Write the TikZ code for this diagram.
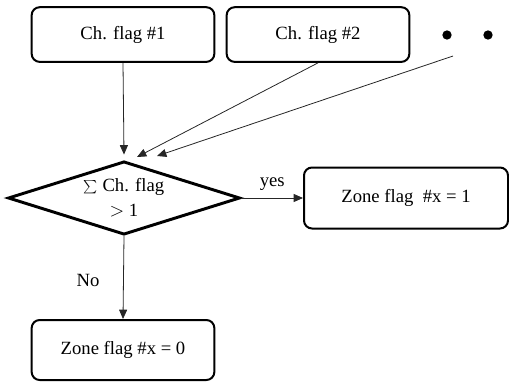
\documentclass[tikz,border=0pt]{standalone}
\usepackage{tikz}
\usepackage{xcolor}
\usepackage{fontspec}
\setmainfont{Liberation Serif}
\usetikzlibrary{shapes.geometric,arrows.meta}

\tikzset{
	flagbox/.style={draw,line width=1.5pt,rounded corners=6pt,minimum width=137pt,minimum height=41pt,font=\fontsize{14}{16}\selectfont},
	decision/.style={draw,diamond,shape aspect=3.16,line width=2.2pt,inner sep=0pt,minimum width=174pt,minimum height=55pt,align=center,font=\fontsize{14}{16}\selectfont},
	arr/.style={-{Triangle[length=7pt,width=6pt]},line width=0.6pt,draw=black!85},
	bullet/.style={circle,fill=black,inner sep=0pt,minimum size=7pt},
	lbl/.style={font=\fontsize{14}{16}\selectfont}
}

\begin{document}
		\begin{tikzpicture}
			\useasboundingbox (0,0) rectangle (381.75pt,-286.5pt);
			\node[flagbox] (flag1) at (92.25pt,-25.9pt) {Ch. flag \#1};
			\node[flagbox] (flag2) at (238.5pt,-25.9pt) {Ch. flag \#2};
			\node[bullet] (dotA) at (335.25pt,-26.25pt) {};
			\node[bullet] (dotB) at (366pt,-26.25pt) {};
			\node[decision] (sum) at (93pt,-148.5pt) {$\sum$ Ch. flag\\[3pt]$>$ 1};
			\node[flagbox,minimum width=153pt,minimum height=45.75pt] (zone1) at (304.5pt,-148.5pt) {Zone flag~~\#x = 1};
			\node[flagbox,minimum height=45pt] (zone0) at (92.25pt,-262.5pt) {Zone flag \#x = 0};

			\coordinate (more) at (339.75pt,-42pt);
			\coordinate (in2) at (102.75pt,-117.75pt);
			\coordinate (in3) at (117.75pt,-117pt);

			\draw[arr] (flag1.south) -- ([yshift=4pt]sum.north);
			\draw[arr] (flag2.south) -- (in2);
			\draw[arr] (more) -- (in3);
			\draw[arr] (sum.east) -- node[lbl,above,yshift=2pt] {yes} (zone1.west);
			\draw[arr] (sum.south) -- (zone0.north);
			\node[lbl] (nolbl) at (66pt,-210pt) {No};
		\end{tikzpicture}
\end{document}
